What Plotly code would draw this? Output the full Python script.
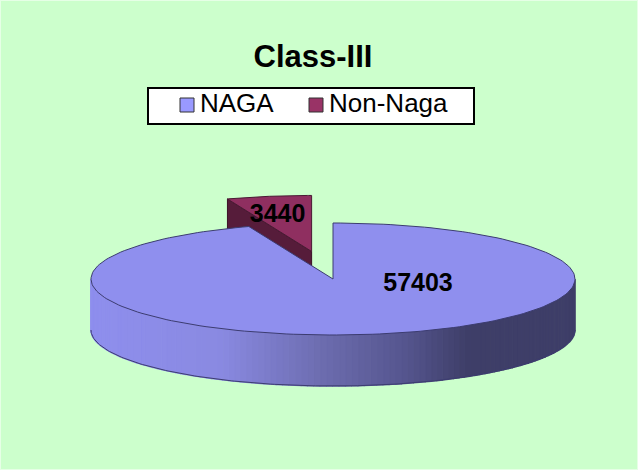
import numpy as np
import plotly.graph_objects as go

categories = ["NAGA", "Non-Naga"]
values = [57403, 3440]
chart_title = "Class-III"

top_colors = ["#8f8fee", "#8f2f60"]
swatch_colors = ["#9999ff", "#993366"]
wedge_dark = "#561c3a"
bg = "#ccffcc"

# pie geometry, the axes below run in page pixels
cx, cy = 333, 279
rx, ry = 242, 56
depth = 51
explode = 0.5

# hand placed legend, a plotly legend can't be squeezed to this height
legend_swatch_x = [187, 316]
legend_text_x = [200, 329]
legend_y = 105


def arc(a0, a1, n=200):
    # angles in radians, clockwise from 12 o'clock
    t = np.linspace(a0, a1, n)
    return np.sin(t) * rx, -np.cos(t) * ry


def hex_mix(stops, x):
    xs, cols = zip(*stops)
    rgb = [np.interp(x, xs, [int(c[i:i + 2], 16) for c in cols]) for i in (1, 3, 5)]
    return "rgb(%d,%d,%d)" % tuple(rgb)


shade = [(91, "#8f8fee"), (220, "#8a8ae2"), (325, "#6c6cae"), (407, "#55558e"),
         (468, "#3e3e68"), (575, "#3e3e68")]

total = sum(values)
naga_end = 2 * np.pi * values[0] / total

fig = go.Figure()


def face(xs, ys, col, line="#3c3c70", width=1):
    fig.add_trace(go.Scatter(x=xs, y=ys, mode="lines", fill="toself", fillcolor=col,
                             line=dict(color=line, width=width), showlegend=False,
                             hoverinfo="skip"))


# exploded slice goes first, the big one covers it
mid = (naga_end + 2 * np.pi) / 2
ox = cx + np.sin(mid) * rx * explode
oy = cy - np.cos(mid) * ry * explode
xs, ys = arc(naga_end, 2 * np.pi, 60)
face(np.r_[ox + xs[0], ox + xs[0], ox, ox, ox + xs[0]],
     np.r_[oy + ys[0], oy + ys[0] + depth, oy + depth, oy, oy + ys[0]],
     wedge_dark, "#3a1026")
face(np.r_[ox, ox + xs, ox], np.r_[oy, oy + ys, oy], top_colors[1], "#4a1a34")

# rim of the big slice, front half only, in thin strips for the shading
edges = np.linspace(np.pi / 2, 3 * np.pi / 2, 121)
for a0, a1 in zip(edges[:-1], edges[1:]):
    xs, ys = arc(a0, a1, 4)
    px = cx + np.r_[xs, xs[::-1]]
    py = cy + np.r_[ys, ys[::-1] + depth]
    col = hex_mix(shade, cx + (xs[0] + xs[-1]) / 2)
    face(px, py, col, col, 1.5)

xs, ys = arc(np.pi / 2, 3 * np.pi / 2)
fig.add_trace(go.Scatter(x=cx + xs, y=cy + ys + depth, mode="lines", showlegend=False,
                         line=dict(color="#3c3c70", width=1), hoverinfo="skip"))

xs, ys = arc(0, naga_end)
face(np.r_[cx, cx + xs, cx], np.r_[cy, cy + ys, cy], top_colors[0])

# data labels
fig.add_trace(go.Scatter(x=[cx + 85, ox - 34], y=[cy + 6, oy - 36], mode="text",
                         text=[str(v) for v in values], showlegend=False,
                         textfont=dict(family="Liberation Sans", size=25, color="black",
                                       weight="bold"),
                         hoverinfo="skip"))

# legend
fig.add_shape(type="rect", x0=148, x1=474, y0=88, y1=124, fillcolor="white",
              line=dict(color="black", width=2), layer="below")
fig.add_trace(go.Scatter(x=legend_swatch_x, y=[legend_y] * 2, mode="markers", showlegend=False,
                         marker=dict(symbol="square", size=14, color=swatch_colors,
                                     line=dict(color="#333333", width=1)),
                         hoverinfo="skip"))
fig.add_trace(go.Scatter(x=legend_text_x, y=[legend_y] * 2, mode="text", text=categories,
                         textposition="middle right", showlegend=False,
                         textfont=dict(family="Liberation Sans", size=26, color="black"),
                         hoverinfo="skip"))

# faint lighter edge round the picture
fig.add_shape(type="rect", xref="paper", yref="paper", x0=0, x1=1, y0=0, y1=1,
              line=dict(color="#e6ffe6", width=2), layer="below")

fig.update_xaxes(range=[0, 638], visible=False, fixedrange=True)
fig.update_yaxes(range=[470, 0], visible=False, fixedrange=True)
fig.update_layout(
    width=638, height=470, margin=dict(l=0, r=0, t=0, b=0),
    paper_bgcolor=bg, plot_bgcolor=bg, showlegend=False,
    title=dict(text="<b>%s</b>" % chart_title, x=313 / 638, xanchor="center",
               y=1 - 56 / 470, yanchor="middle",
               font=dict(family="Liberation Sans", size=31, color="black")),
)

fig.write_html("out.html", config=dict(displayModeBar=False),
               post_script="document.body.style.margin='0';")
